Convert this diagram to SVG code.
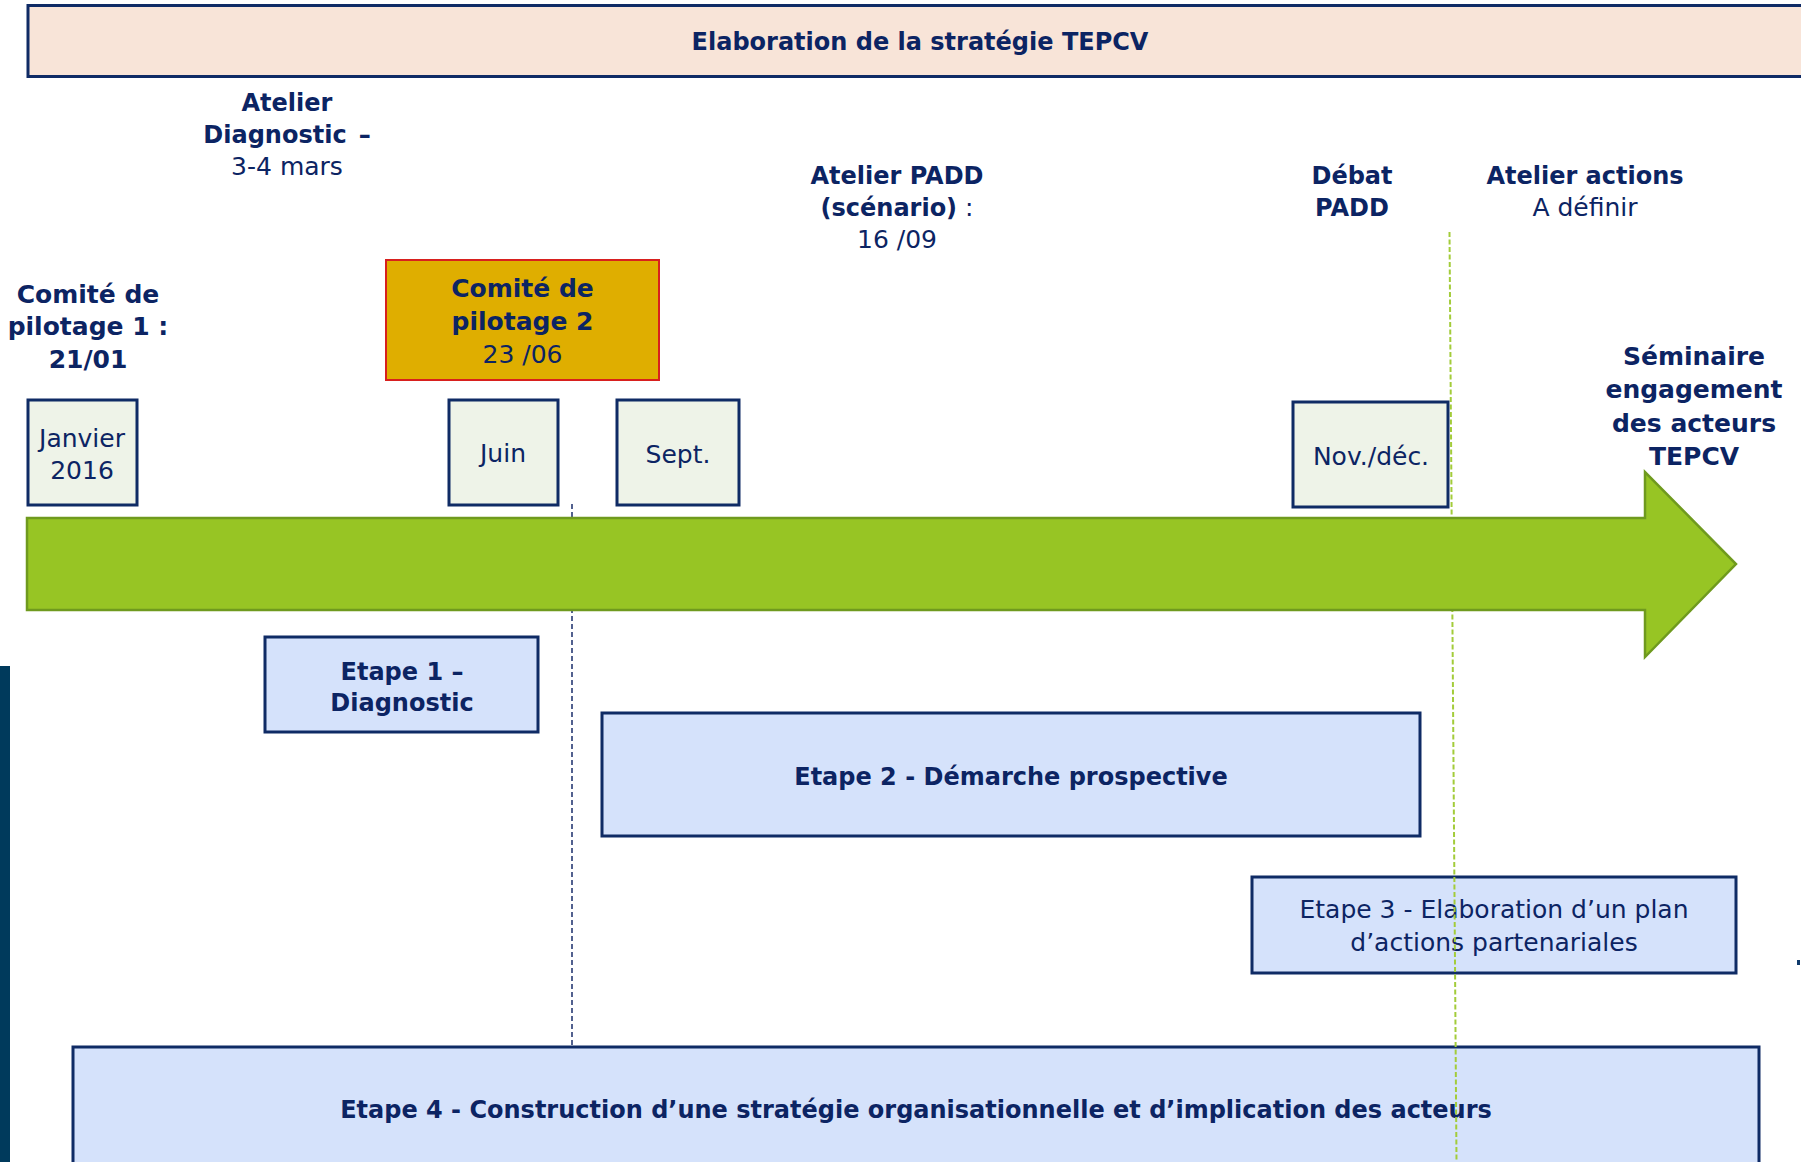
<svg xmlns="http://www.w3.org/2000/svg" width="1801" height="1162" viewBox="0 0 1801 1162">
<style>
  text { font-family: "DejaVu Sans", Verdana, "Liberation Sans", sans-serif; fill: #0c2463; text-anchor: middle; }
  .b { font-weight: bold; font-size: 24px; }
  .r { font-weight: normal; font-size: 25px; }
  .b25 { font-weight: bold; font-size: 25px; }
  .month { fill: #eef3e8; stroke: #0f2b65; stroke-width: 3; }
  .etape { fill: #d5e2fb; stroke: #0f2b65; stroke-width: 3; }
</style>
<rect width="1801" height="1162" fill="#ffffff"/>

<g id="banner">
  <rect x="28" y="5.5" width="1800" height="71" fill="#f8e4d8" stroke="#0f2b65" stroke-width="3"/>
  <text class="b" x="920" y="50">Elaboration de la stratégie TEPCV</text>
</g>

<g id="left-bar">
  <rect x="0" y="666" width="10" height="496" fill="#003a5c"/>
</g>

<g id="edge-mark">
  <rect x="1797" y="960" width="3" height="5" fill="#0f3a6b"/>
</g>

<g id="etape1">
  <rect class="etape" x="265" y="637" width="273" height="95"/>
  <text class="b" x="402" y="680">Etape 1 –</text>
  <text class="b" x="402" y="711">Diagnostic</text>
</g>

<g id="etape2">
  <rect class="etape" x="602" y="713" width="818" height="123"/>
  <text class="b" x="1011" y="785">Etape 2 - Démarche prospective</text>
</g>

<g id="etape3">
  <rect class="etape" x="1252" y="877" width="484" height="96"/>
  <text class="r" x="1494" y="918">Etape 3 - Elaboration d’un plan</text>
  <text class="r" x="1494" y="951">d’actions partenariales</text>
</g>

<g id="etape4">
  <rect class="etape" x="73" y="1047" width="1686" height="130"/>
  <text class="b" x="916" y="1118">Etape 4 - Construction d’une stratégie organisationnelle et d’implication des acteurs</text>
</g>

<g id="connectors">
  <line x1="572" y1="504" x2="572" y2="1046" stroke="#1a2e6b" stroke-width="1.5" stroke-dasharray="5 3"/>
  <line x1="1449.5" y1="232" x2="1456.5" y2="1162" stroke="#a3cc3a" stroke-width="2" stroke-dasharray="5 2.5"/>
</g>

<g id="timeline-arrow">
  <path d="M27,518 L1645,518 L1645,472 L1736,564 L1645,657 L1645,610 L27,610 Z" fill="#97c524" stroke="#6f9a1e" stroke-width="2.5" stroke-linejoin="miter"/>
</g>

<g id="month-janvier">
  <rect class="month" x="28" y="400" width="109" height="105"/>
  <text class="r" x="82" y="447">Janvier</text>
  <text class="r" x="82" y="479">2016</text>
</g>

<g id="month-juin">
  <rect class="month" x="449" y="400" width="109" height="105"/>
  <text class="r" x="503" y="462">Juin</text>
</g>

<g id="month-sept">
  <rect class="month" x="617" y="400" width="122" height="105"/>
  <text class="r" x="678" y="463">Sept.</text>
</g>

<g id="month-novdec">
  <rect class="month" x="1293" y="402" width="155" height="105"/>
  <text class="r" x="1371" y="465">Nov./déc.</text>
</g>

<g id="comite1">
  <text class="b25" x="88" y="303">Comité de</text>
  <text class="b25" x="88" y="335">pilotage 1 :</text>
  <text class="b25" x="88" y="368">21/01</text>
</g>

<g id="comite2">
  <rect x="386" y="260" width="273" height="120" fill="#dfae00" stroke="#d8201e" stroke-width="2"/>
  <text class="b25" x="522.5" y="297">Comité de</text>
  <text class="b25" x="522.5" y="330">pilotage 2</text>
  <text class="r" x="522.5" y="363">23 /06</text>
</g>

<g id="atelier-diagnostic">
  <text class="b" x="287" y="111">Atelier</text>
  <text class="b" x="287" y="143">Diagnostic<tspan dx="12">–</tspan></text>
  <text class="r" x="287" y="175">3-4 mars</text>
</g>

<g id="atelier-padd">
  <text class="b" x="897" y="184">Atelier PADD</text>
  <text x="897" y="216"><tspan class="b">(scénario)</tspan><tspan class="r"> :</tspan></text>
  <text class="r" x="897" y="248">16 /09</text>
</g>

<g id="debat-padd">
  <text class="b" x="1352" y="184">Débat</text>
  <text class="b" x="1352" y="216">PADD</text>
</g>

<g id="atelier-actions">
  <text class="b" x="1585" y="184">Atelier actions</text>
  <text class="r" x="1585" y="216">A définir</text>
</g>

<g id="seminaire">
  <text class="b25" x="1694" y="365">Séminaire</text>
  <text class="b25" x="1694" y="398">engagement</text>
  <text class="b25" x="1694" y="432">des acteurs</text>
  <text class="b25" x="1694" y="465">TEPCV</text>
</g>
</svg>
